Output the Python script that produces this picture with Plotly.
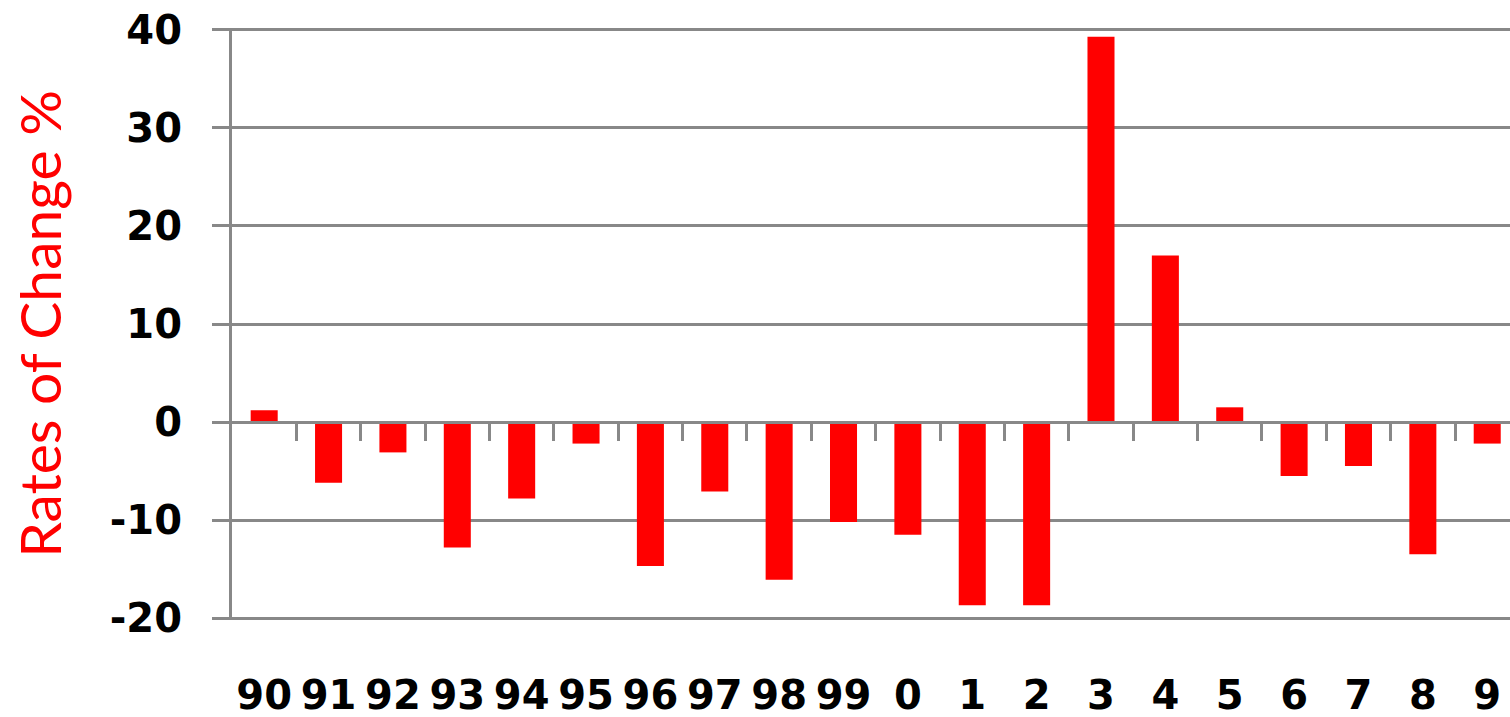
import plotly.graph_objects as go

# Year labels (1990–2009, shown as two-digit / single-digit years)
years = ["90", "91", "92", "93", "94", "95", "96", "97", "98", "99",
         "0", "1", "2", "3", "4", "5", "6", "7", "8", "9"]
# Annual rates of change, percent
rates = [1.2, -6.2, -3.1, -12.8, -7.8, -2.2, -14.7, -7.1, -16.1, -10.2,
         -11.5, -18.7, -18.7, 39.3, 17.0, 1.5, -5.5, -4.5, -13.5, -2.2]
y_ticks = [-20, -10, 0, 10, 20, 30, 40]
y_tick_text = ["-20", "-10", "0", "10", "20", "30", "40"]

GRID = "#888888"
RED = "#FF0000"
TICK_FONT = dict(family="DejaVu Sans", size=40, color="black", weight="bold")

idx = list(range(len(years)))
boundaries = [i + 0.5 for i in idx]

fig = go.Figure()
fig.add_trace(go.Bar(x=idx, y=rates, marker=dict(color=RED, line=dict(width=0)),
                     showlegend=False, hoverinfo="skip"))
# Empty trace that carries the zero-line axis with the boundary ticks
fig.add_trace(go.Scatter(x=[], y=[], xaxis="x2", yaxis="y",
                         showlegend=False, hoverinfo="skip"))

x_range = [-0.5, 19.354]
# a little padding so the gridlines at -20 and 40 are not clipped away
y_range = [-20.2, 40.2]
fig.update_layout(
    width=1510, height=717,
    margin=dict(l=232, r=0, t=28, b=97, autoexpand=False),
    paper_bgcolor="white", plot_bgcolor="white",
    bargap=0.58,
    xaxis=dict(
        range=x_range, tickmode="array", tickvals=idx, ticktext=years,
        showgrid=False, zeroline=False, showline=False, ticks="",
        tickfont=TICK_FONT, ticklabelstandoff=48, automargin=False,
    ),
    xaxis2=dict(
        overlaying="x", matches="x", anchor="free",
        position=(0 - y_range[0]) / (y_range[1] - y_range[0]),
        range=x_range, tickmode="array", tickvals=boundaries,
        showticklabels=False, showgrid=False, zeroline=False,
        showline=True, linecolor=GRID, linewidth=3,
        ticks="outside", ticklen=17, tickwidth=3, tickcolor=GRID,
        automargin=False,
    ),
    yaxis=dict(
        range=y_range, tickmode="array", tickvals=y_ticks,
        ticktext=y_tick_text,
        showgrid=True, gridcolor=GRID, gridwidth=3, zeroline=False,
        showline=True, linecolor=GRID, linewidth=3,
        ticks="outside", ticklen=17, tickwidth=3, tickcolor=GRID,
        tickfont=TICK_FONT, ticklabelstandoff=22, automargin=False,
        title=dict(text="Rates of Change %",
                   font=dict(family="Lato", size=57, color=RED),
                   standoff=30),
    ),
)

fig.write_html("out.html")
